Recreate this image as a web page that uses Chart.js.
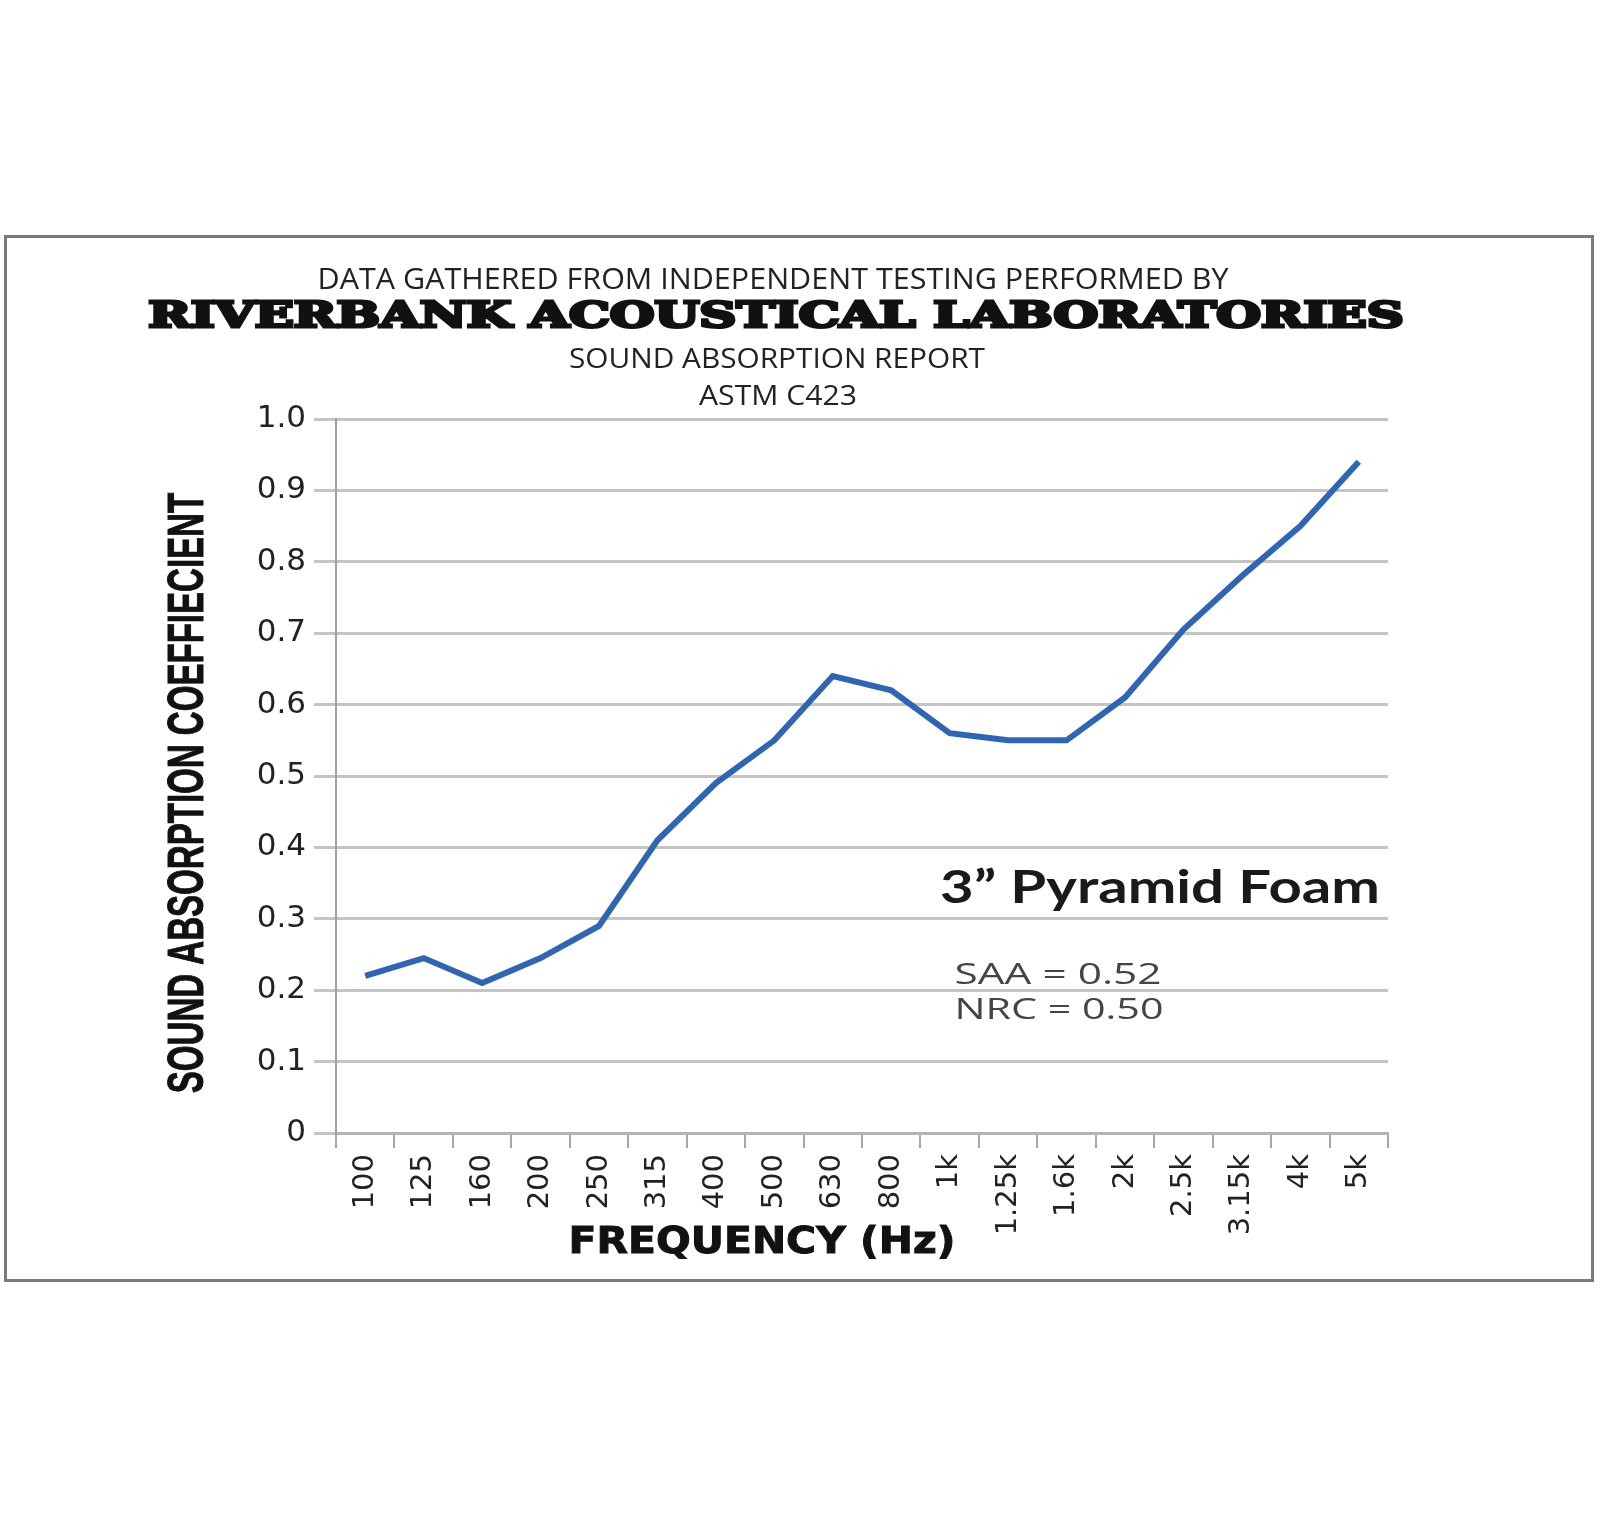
<!DOCTYPE html>
<html>
<head>
<meta charset="utf-8">
<style>
  html, body { margin: 0; padding: 0; background: #fff; }
  #wrap { width: 1600px; height: 1538px; }
</style>
<script src="https://cdn.jsdelivr.net/npm/chart.js@4/dist/chart.umd.min.js"></script>
</head>
<body>
<div id="wrap"><canvas id="chart" width="1600" height="1538"></canvas></div>
<script>
// data
const frequencies = ['100', '125', '160', '200', '250', '315', '400', '500', '630', '800',
                     '1k', '1.25k', '1.6k', '2k', '2.5k', '3.15k', '4k', '5k'];
const absorption = [0.22, 0.245, 0.21, 0.245, 0.29, 0.41, 0.49, 0.55, 0.64, 0.62,
                    0.56, 0.55, 0.55, 0.61, 0.705, 0.78, 0.85, 0.94];
const yMin = 0;
const yMax = 1.0;
const yStep = 0.1;

const titleLines = ['DATA GATHERED FROM INDEPENDENT TESTING PERFORMED BY',
                    'RIVERBANK ACOUSTICAL LABORATORIES',
                    'SOUND ABSORPTION REPORT',
                    'ASTM C423'];
const productName = '3\u201D Pyramid Foam';
const ratings = ['SAA = 0.52', 'NRC = 0.50'];

// draw text stretched/squeezed to a given width, centred on (cx, cy)
function fitText(ctx, text, cx, cy, width, font, color, stroke) {
    ctx.save();
    ctx.font = font;
    ctx.fillStyle = color;
    ctx.textAlign = 'center';
    ctx.textBaseline = 'middle';
    const w = ctx.measureText(text).width + (stroke || 0);
    ctx.translate(cx, cy);
    ctx.scale(width / w, 1);
    if (stroke) {
        ctx.strokeStyle = color;
        ctx.lineWidth = stroke;
        ctx.lineJoin = 'miter';
        ctx.strokeText(text, 0, 0);
    }
    ctx.fillText(text, 0, 0);
    ctx.restore();
}

const decorations = {
    id: 'decorations',
    beforeDraw(chart) {
        const ctx = chart.ctx;
        ctx.save();
        ctx.fillStyle = '#fff';
        ctx.fillRect(0, 0, chart.width, chart.height);
        ctx.strokeStyle = '#7a7a7a';
        ctx.lineWidth = 3;
        ctx.strokeRect(5.5, 236.5, 1587, 1044);
        ctx.restore();
    },
    afterDraw(chart) {
        const ctx = chart.ctx;
        fitText(ctx, titleLines[0], 773, 280, 911, '30px "Open Sans"', '#222');
        fitText(ctx, titleLines[1], 776, 318, 1260, 'bold 35px "DejaVu Serif"', '#111', 3);
        fitText(ctx, titleLines[2], 777, 360, 416, '28px "Open Sans"', '#222');
        fitText(ctx, titleLines[3], 778, 397, 158, '28px "Open Sans"', '#222');

        // axis titles
        ctx.save();
        ctx.translate(189, 793);
        ctx.rotate(-Math.PI / 2);
        fitText(ctx, 'SOUND ABSORPTION COEFFIECIENT', 0, 0, 601, 'bold 50px "Liberation Sans"', '#111', 1);
        ctx.restore();
        fitText(ctx, 'FREQUENCY (Hz)', 762, 1243, 388, 'bold 38px "DejaVu Sans"', '#111', 1);

        // product annotation
        fitText(ctx, productName, 1160, 888, 440, 'bold 46px Lato', '#1a1a1a');
        fitText(ctx, ratings[0], 1058, 975, 207, '30px "Open Sans"', '#444');
        fitText(ctx, ratings[1], 1059, 1010, 209, '30px "Open Sans"', '#444');
    }
};

const ctx = document.getElementById('chart').getContext('2d');
new Chart(ctx, {
    type: 'line',
    data: {
        labels: frequencies,
        datasets: [{
            label: productName,
            data: absorption,
            borderColor: '#2f65b1',
            borderWidth: 6,
            tension: 0,
            pointRadius: 0,
            fill: false
        }]
    },
    options: {
        responsive: false,
        animation: false,
        devicePixelRatio: 1,
        layout: {
            padding: { left: 180, right: 212, top: 419, bottom: 255 }
        },
        plugins: {
            legend: { display: false },
            tooltip: { enabled: false }
        },
        scales: {
            x: {
                offset: true,
                afterFit: (scale) => { scale.height = 150; },
                grid: {
                    offset: true,
                    drawOnChartArea: false,
                    drawTicks: true,
                    tickLength: 15,
                    color: '#a8a8a8',
                    lineWidth: 2
                },
                border: { display: true, color: '#b5b5b5', width: 3 },
                ticks: {
                    autoSkip: false,
                    minRotation: 90,
                    maxRotation: 90,
                    padding: 6,
                    color: '#222',
                    font: { family: '"DejaVu Sans"', size: 29 }
                }
            },
            y: {
                min: yMin,
                max: yMax,
                afterFit: (scale) => { scale.width = 156; },
                grid: {
                    color: '#c4c4c4',
                    lineWidth: 3,
                    drawTicks: true,
                    tickLength: 22
                },
                border: { display: true, color: '#a0a0a0', width: 2 },
                ticks: {
                    stepSize: yStep,
                    padding: 8,
                    color: '#222',
                    font: { family: '"DejaVu Sans"', size: 31 },
                    callback: (v) => v === 0 ? '0' : v.toFixed(1)
                }
            }
        }
    },
    plugins: [decorations]
});
</script>
</body>
</html>
